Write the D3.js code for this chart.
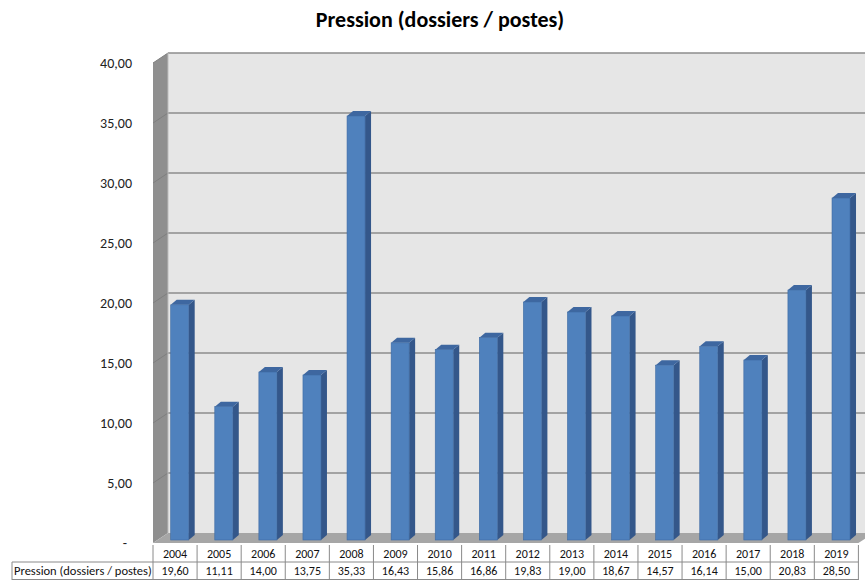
<!DOCTYPE html>
<html><head><meta charset="utf-8">
<script src="https://cdn.jsdelivr.net/npm/d3@7/dist/d3.min.js"></script>
<style>body{margin:0;background:#fff;} svg{display:block;}</style>
</head><body>
<svg id="c" width="865" height="580"></svg>
<script>
const title = "Pression (dossiers / postes)";
const seriesName = "Pression (dossiers / postes)";
const years = ["2004","2005","2006","2007","2008","2009","2010","2011","2012","2013","2014","2015","2016","2017","2018","2019"];
const values = [19.60,11.11,14.00,13.75,35.33,16.43,15.86,16.86,19.83,19.00,18.67,14.57,16.14,15.00,20.83,28.50];
const yTicks = [0,5,10,15,20,25,30,35,40];

const svg = d3.select("#c");
const font = "Carlito, Lato, 'Open Sans', sans-serif";
const fmt = v => v === 0 ? "-" : v.toFixed(2).replace(".", ",");

const x = d3.scaleBand().domain(years).range([153, 858.4]);
const y = d3.scaleLinear().domain([0, 40]).range([543, 63]);
const DX = 15, DY = -10; // depth offset front->back

// walls
const left = 153, right = 880;
svg.append("polygon")
  .attr("points", [[left, y(0)], [left, y(40)], [left+DX, y(40)+DY], [left+DX, y(0)+DY]].join(" "))
  .attr("fill", "#8f8f8f");
svg.append("rect").attr("x", left+DX).attr("y", y(40)+DY).attr("width", right-left-DX).attr("height", y(0)-y(40))
  .attr("fill", "#e6e6e6");
svg.append("polygon")
  .attr("points", [[left, y(0)], [left+DX, y(0)+DY], [874, y(0)+DY], [858.4, y(0)]].join(" "))
  .attr("fill", "#a6a6a6");

// gridlines
yTicks.forEach(t => {
  if (t === 0) return;
  svg.append("line").attr("x1", left+DX).attr("x2", right).attr("y1", y(t)+DY).attr("y2", y(t)+DY)
    .attr("stroke", "#8c8c8c").attr("stroke-width", 1.5);
  svg.append("line").attr("x1", left).attr("x2", left+DX).attr("y1", y(t)).attr("y2", y(t)+DY)
    .attr("stroke", "#7f7f7f").attr("stroke-width", 1);
});
svg.append("line").attr("x1", left+DX).attr("x2", left+DX).attr("y1", y(40)+DY).attr("y2", y(0)+DY)
  .attr("stroke", "#bdbdbd").attr("stroke-width", 1);

// y labels
svg.append("g").selectAll("text").data(yTicks).join("text")
  .attr("x", d => d === 0 ? 125 : 132).attr("y", d => y(d) + 2)
  .attr("text-anchor", d => d === 0 ? "middle" : "end").attr("dominant-baseline", "middle")
  .attr("font-family", font).attr("font-size", 14).attr("fill", "#222")
  .text(fmt);

// bars
const by = -3, bw = 18, sd = 6, sh = -5;
const g = svg.append("g");
years.forEach((yr, i) => {
  const v = values[i];
  const x0 = x(yr) + 17.7;
  const yt = y(v) + by, yb = y(0) + by;
  g.append("polygon").attr("points", [[x0+bw, yb], [x0+bw, yt], [x0+bw+sd, yt+sh], [x0+bw+sd, yb+sh]].join(" "))
    .attr("fill", "#34578a");
  g.append("polygon").attr("points", [[x0, yt], [x0+sd, yt+sh], [x0+bw+sd, yt+sh], [x0+bw, yt]].join(" "))
    .attr("fill", "#3e67a0");
  g.append("rect").attr("x", x0).attr("y", yt).attr("width", bw).attr("height", yb-yt)
    .attr("fill", "#4f81bd").attr("stroke", "#3d6aa3").attr("stroke-width", 0.6);
});

// title
svg.append("text").attr("x", 440).attr("y", 27).attr("text-anchor", "middle")
  .attr("font-family", font).attr("font-weight", "bold").attr("font-size", 22).attr("fill", "#000")
  .text(title);

// table
const tTop = 543, tMid = 562, tBot = 580;
const tg = svg.append("g").attr("stroke", "#8a8a8a").attr("stroke-width", 1);
tg.append("line").attr("x1", 12).attr("x2", 858.4).attr("y1", tMid).attr("y2", tMid);
tg.append("line").attr("x1", 12).attr("x2", 12).attr("y1", tMid).attr("y2", tBot);
tg.append("line").attr("x1", 12).attr("x2", 858.4).attr("y1", tBot-0.5).attr("y2", tBot-0.5);
years.forEach(yr => {
  tg.append("line").attr("x1", x(yr)).attr("x2", x(yr)).attr("y1", tTop+2).attr("y2", tBot);
});
tg.append("line").attr("x1", 858.4).attr("x2", 858.4).attr("y1", tTop+2).attr("y2", tBot);

svg.append("g").selectAll("text").data(years).join("text")
  .attr("x", d => x(d) + x.bandwidth()/2).attr("y", 555).attr("text-anchor", "middle").attr("dominant-baseline", "middle")
  .attr("font-family", font).attr("font-size", 12).attr("fill", "#111").text(d => d);
svg.append("g").selectAll("text").data(values).join("text")
  .attr("x", (d, i) => x(years[i]) + x.bandwidth()/2).attr("y", 572).attr("text-anchor", "middle").attr("dominant-baseline", "middle")
  .attr("font-family", font).attr("font-size", 12).attr("fill", "#111").text(d => d.toFixed(2).replace(".", ","));
svg.append("text").attr("x", 14).attr("y", 572).attr("dominant-baseline", "middle")
  .attr("font-family", font).attr("font-size", 12.5).attr("fill", "#111").text(seriesName);
</script>
</body></html>
